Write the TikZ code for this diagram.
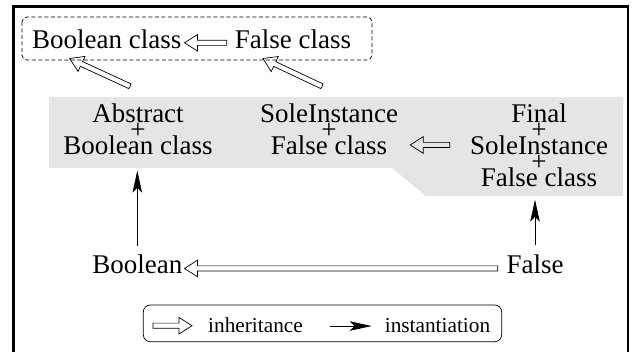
\documentclass[tikz,border=0pt]{standalone}
\usepackage{fontspec}
\setmainfont{Liberation Serif}
\usetikzlibrary{arrows.meta,calc}

\begin{document}
\begin{tikzpicture}[x=1pt, y=-1pt,
  txt/.style={font=\fontsize{27}{32}\selectfont, inner sep=0pt, text height=18pt, text depth=7pt, anchor=base},
  stack/.style={font=\fontsize{27}{32}\selectfont, inner sep=0pt, align=center, anchor=north},
  small/.style={font=\fontsize{21.3}{25}\selectfont, inner sep=0pt, anchor=base},
  inherit/.style={line width=0.7pt, to path={
    let \p1=(\tikztostart), \p2=(\tikztotarget), \n1={atan2(\y2-\y1,\x2-\x1)} in
    ($(\p1)+(\n1+90:2.6pt)$) -- ($(\p2)+(\n1+180:13pt)+(\n1+90:2.6pt)$)
    -- ($(\p2)+(\n1+180:13pt)+(\n1+90:8.3pt)$) -- (\p2)
    -- ($(\p2)+(\n1+180:13pt)+(\n1-90:8.3pt)$) -- ($(\p2)+(\n1+180:13pt)+(\n1-90:2.6pt)$)
    -- ($(\p1)+(\n1-90:2.6pt)$) -- cycle}},
  inst/.style={line width=0.7pt, -{Stealth[length=22pt, width=9.5pt, inset=5pt]}}
]
\useasboundingbox (0,0) rectangle (633,352);

% frame
\draw[line width=2.7pt] (13.7,360) -- (13.7,6.3) -- (628,6.3) -- (628,360);

% shaded band
\fill[gray!20] (49,97) -- (623,97) -- (623,196) -- (426,196) -- (392,168) -- (49,168) -- cycle;

% classes
\node[txt] (bcls) at (106.7,48.3) {Boolean class};
\node[txt] (fcls) at (293,48.3) {False class};
\draw[dash pattern=on 4pt off 2.5pt, rounded corners=5pt, line width=0.7pt] (22,17) rectangle (372,60);

% metaclasses
\node[stack] (abs) at (138,103.3) {Abstract\\[-16pt]+\\[-16pt]Boolean class};
\node[stack] (sole) at (329,103.3) {SoleInstance\\[-16pt]+\\[-16pt]False class};
\node[stack] (fin) at (539,103.3) {Final\\[-16pt]+\\[-16pt]SoleInstance\\[-16pt]+\\[-16pt]False class};

% instances
\node[txt] (bool) at (137.3,274) {Boolean};
\node[txt] (fls) at (535,274) {False};

% inheritance
\draw[inherit] ([xshift=-8pt]fcls.west) to ([xshift=3pt]bcls.east);
\draw[inherit] ($(abs.north)+(-8,-17)$) to ($(bcls.south)+(-37,3)$);
\draw[inherit] ($(sole.north)+(-7,-17)$) to ($(fcls.south)+(-30,3)$);
\draw[inherit] ([xshift=-20pt]fin.west) to ([xshift=12pt]sole.east |- fin.west);
\draw[inherit] ([xshift=-8.5pt]fls.west) to ([xshift=2pt]bool.east);

% instantiation
\draw[inst, shorten <=10pt, shorten >=16pt] (bool.north) -- (bool.north |- abs.south);
\draw[inst, shorten <=11pt, shorten >=13pt] (fls.north) -- (fls.north |- fin.south);

% legend
\draw[rounded corners=7pt, line width=0.7pt] (143.3,305) rectangle (501.7,341.7);
\node[small] (inh) at (255.5,333) {inheritance};
\node[small] (ins) at (437.5,333) {instantiation};
\draw[inherit] ([xshift=-55pt]inh.west) to ([xshift=-16pt]inh.west);
\draw[inst] ([xshift=-55pt]ins.west) -- ([xshift=-13pt]ins.west);

\end{tikzpicture}
\end{document}
